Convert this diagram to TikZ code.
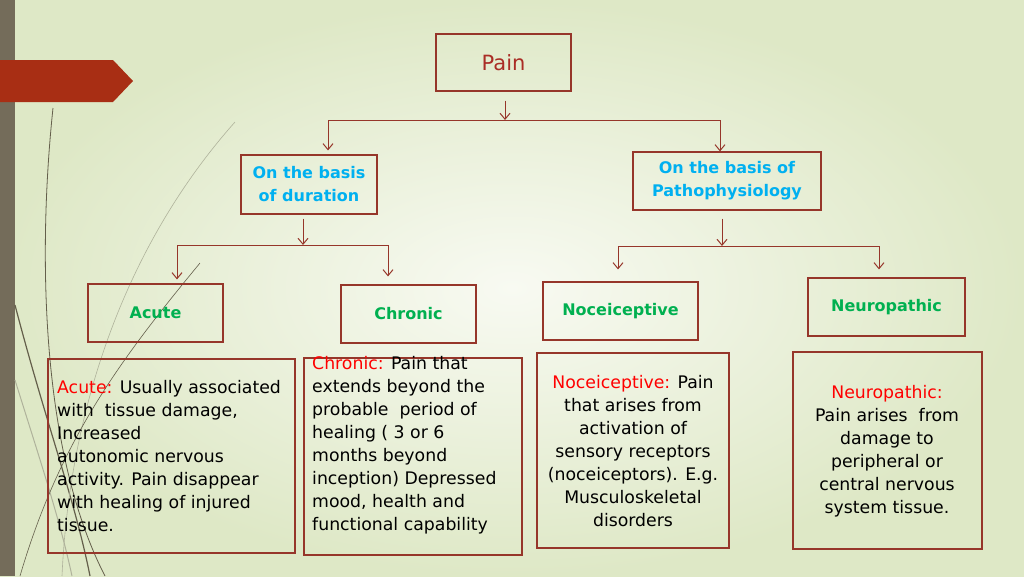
\documentclass[tikz,border=0pt]{standalone}
\usepackage{fontspec}
\setmainfont{DejaVu Sans}
\usetikzlibrary{arrows.meta}
\definecolor{bord}{RGB}{150,54,42}
\definecolor{painred}{RGB}{170,45,38}
\definecolor{cyanb}{RGB}{0,176,240}
\definecolor{greenb}{RGB}{0,176,80}
\definecolor{redl}{RGB}{255,0,0}
\definecolor{barc}{RGB}{116,108,90}
\definecolor{arrowred}{RGB}{168,46,20}
\definecolor{bgin}{RGB}{248,250,242}
\definecolor{bgout}{RGB}{222,232,198}
\definecolor{wispd}{RGB}{100,95,75}
\definecolor{wispl}{RGB}{175,178,155}
\begin{document}
\begin{tikzpicture}[x=1pt,y=-1pt,
  box/.style={draw=bord,line width=1.2pt,inner sep=0pt},
  hdr/.style={box,font=\fontsize{16}{23}\selectfont\bfseries,align=center},
  desc/.style={font=\fontsize{17.3}{23}\selectfont,inner sep=0pt},
  conn/.style={draw=bord,line width=1pt},
  arr/.style={conn,-{Straight Barb[length=6pt,width=10pt]}}]
\useasboundingbox (0,0) rectangle (1024,576);
% background
\shade[inner color=bgin,outer color=bgout] (0,0) rectangle (1024,576);
\fill[barc] (0,0) rectangle (15,576);
% wisps
\draw[wispd,line width=0.8pt] (53,108) .. controls (38,250) and (40,450) .. (105,576);
\draw[wispd,line width=1.2pt] (15,305) .. controls (45,420) and (75,500) .. (90,576);
\draw[wispl,line width=1pt] (15,380) .. controls (40,460) and (60,520) .. (72,576);
\draw[wispl,line width=0.6pt] (235,122) .. controls (130,240) and (70,400) .. (62,576);
\draw[wispd,line width=0.6pt] (200,263) .. controls (120,360) and (60,440) .. (20,576);
% red arrow
\fill[arrowred] (0,60) -- (113,60) -- (133,81) -- (113,102) -- (0,102) -- cycle;
% boxes
\node[box,minimum width=135pt,minimum height=57pt,font=\fontsize{21}{25}\selectfont,text=painred] (pain) at (503.5,62.5) {Pain};
\node[hdr,text=cyanb,minimum width=136pt,minimum height=59pt] (dur) at (309,184.5) {On the basis\\of duration};
\node[hdr,text=cyanb,minimum width=188pt,minimum height=58pt] (path) at (727,181) {On the basis of\\Pathophysiology};
\node[hdr,text=greenb,minimum width=135pt,minimum height=58pt] (acute) at (155.5,313) {Acute};
\node[hdr,text=greenb,minimum width=135pt,minimum height=58pt] (chronic) at (408.5,314) {Chronic};
\node[hdr,text=greenb,minimum width=155pt,minimum height=58pt] (noc) at (620.5,311) {Noceiceptive};
\node[hdr,text=greenb,minimum width=157pt,minimum height=58pt] (neuro) at (886.5,307) {Neuropathic};
% description boxes
\node[box,minimum width=247pt,minimum height=194pt] (acuted) at (171.5,456) {};
\node[box,minimum width=218pt,minimum height=197pt] (chronicd) at (413,456.5) {};
\node[box,minimum width=192pt,minimum height=195pt] (nocd) at (633,450.5) {};
\node[box,minimum width=189pt,minimum height=197pt] (neurod) at (887.5,450.5) {};
\node[desc,anchor=west,align=left] (acutet) at (57,456)
  {\textcolor{redl}{Acute:} Usually associated\\with\ \ tissue damage,\\Increased\\autonomic nervous\\activity. Pain disappear\\with healing of injured\\tissue.};
\node[desc,anchor=west,align=left] (chronict) at (312,445.5)
  {\textcolor{redl}{Chronic:} Pain that\\extends beyond the\\probable\ \ period of\\healing ( 3 or 6\\months beyond\\inception) Depressed\\mood, health and\\functional capability};
\node[desc,align=center] (noct) at (633,451)
  {\textcolor{redl}{Noceiceptive:} Pain\\that arises from\\activation of\\sensory receptors\\(noceiceptors). E.g.\\Musculoskeletal\\disorders};
\node[desc,align=center] (neurot) at (887,451)
  {\textcolor{redl}{Neuropathic:}\\Pain arises\ \ from\\damage to\\peripheral or\\central nervous\\system tissue.};
% connectors level 1
\coordinate (j0) at (505,120);
\coordinate (j0l) at (328,120);
\coordinate (j0r) at (720,120);
\draw[arr,shorten <=9pt] (pain.south -| j0) -- (j0);
\draw[conn] (j0l) -- (j0r);
\draw[arr,shorten >=4pt] (j0l) -- (j0l |- dur.north);
\draw[arr] (j0r) -- (j0r |- path.north);
% connectors level 2 left
\coordinate (j1) at (303,245);
\coordinate (j1l) at (177,245);
\coordinate (j1r) at (388,245);
\draw[arr,shorten <=4pt] (dur.south -| j1) -- (j1);
\draw[conn] (j1l) -- (j1r);
\draw[arr,shorten >=4pt] (j1l) -- (j1l |- acute.north);
\draw[arr,shorten >=8pt] (j1r) -- (j1r |- chronic.north);
% connectors level 2 right
\coordinate (j2) at (722,246);
\coordinate (j2l) at (618,246);
\coordinate (j2r) at (879,246);
\draw[arr,shorten <=8pt] (path.south -| j2) -- (j2);
\draw[conn] (j2l) -- (j2r);
\draw[arr,shorten >=12pt] (j2l) -- (j2l |- noc.north);
\draw[arr,shorten >=8pt] (j2r) -- (j2r |- neuro.north);
\end{tikzpicture}
\end{document}
